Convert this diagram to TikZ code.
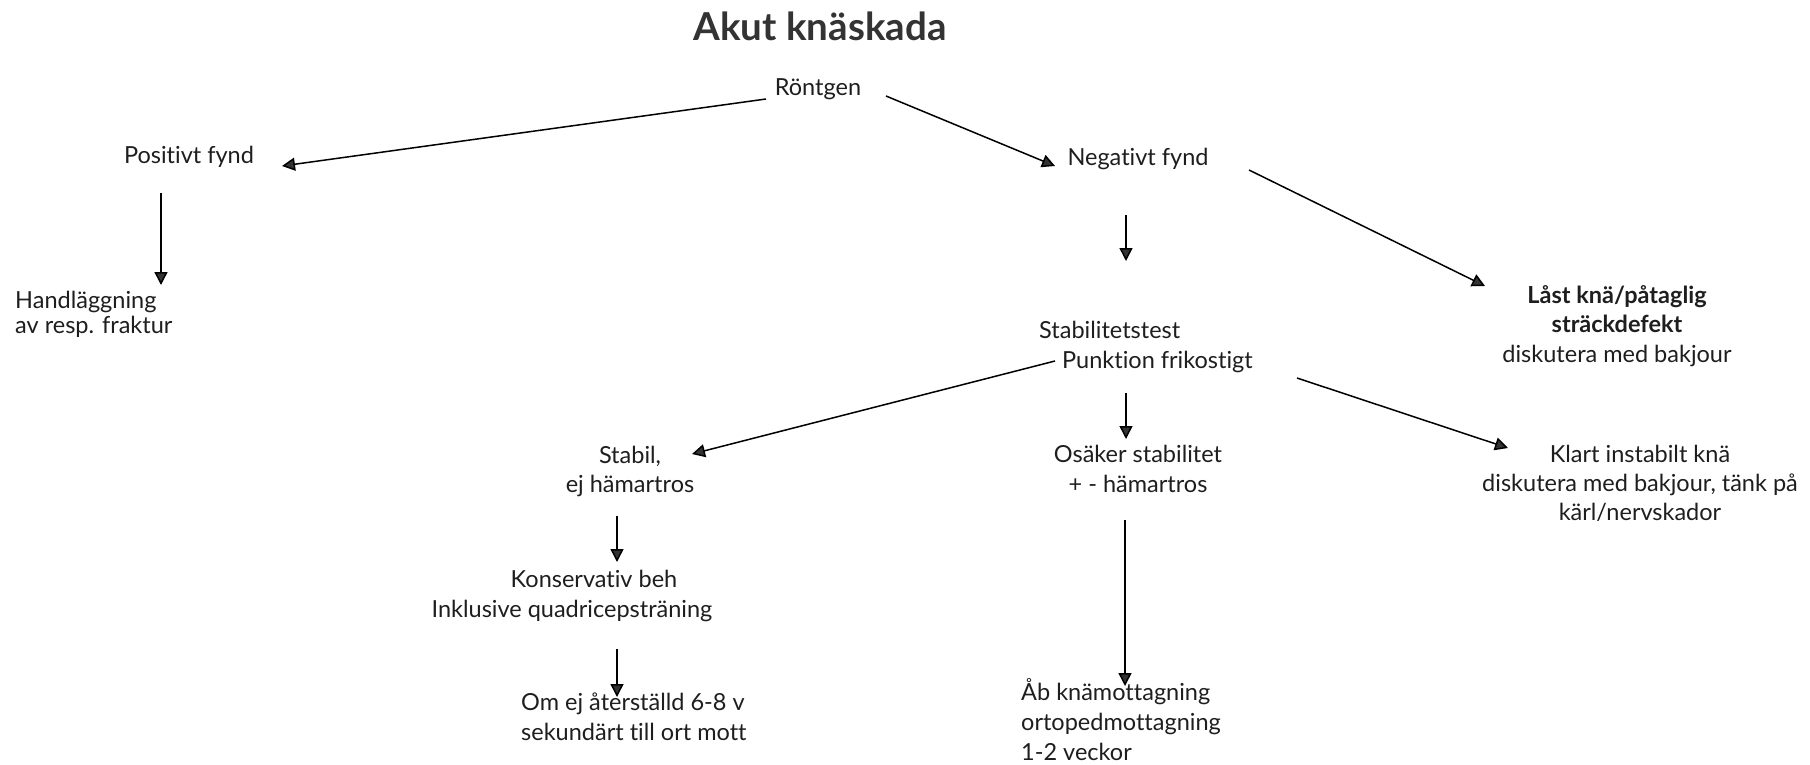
\documentclass[tikz,border=0pt]{standalone}
\usepackage{fontspec}
\setmainfont{Lato}[Ligatures={NoCommon}]
\usetikzlibrary{arrows.meta}
\definecolor{txt}{HTML}{1E1E1E}
\definecolor{ttl}{HTML}{333333}
\definecolor{tip}{HTML}{333333}
\begin{document}
\begin{tikzpicture}[x=1pt,y=-1pt,
  lbl/.style={inner sep=0pt, text=txt, font=\fontsize{23.5}{29}\selectfont},
  arr/.style={line width=1.5pt, draw=black, -{Triangle[length=13pt,width=13pt,fill=tip]}},
]
\useasboundingbox (0,0) rectangle (1810,764);

% title
\node[inner sep=0pt, anchor=base, text=ttl, font=\fontsize{38.5}{46}\selectfont\bfseries] (title) at (820,40) {Akut knäskada};

% nodes (base = baseline of the last line)
\node[lbl, anchor=base] (rontgen) at (818,95) {Röntgen};
\node[lbl, anchor=base] (pos) at (189,163) {Positivt fynd};
\node[lbl, anchor=base] (neg) at (1138,165) {Negativt fynd};
\node[lbl, anchor=base west, align=left, font=\fontsize{23.5}{25}\selectfont] (hand) at (15,333) {Handläggning\\av resp. fraktur};
\node[lbl, anchor=base, align=center, font=\fontsize{23.5}{29.5}\selectfont] (last) at (1617,362) {\textbf{Låst knä/påtaglig}\\\textbf{sträckdefekt}\\diskutera med bakjour};
\node[lbl, anchor=base west, align=left, font=\fontsize{23.5}{30}\selectfont] (stab) at (1039,368) {Stabilitetstest\\\hspace*{23pt}Punktion frikostigt};
\node[lbl, anchor=base, align=center, font=\fontsize{23.5}{30}\selectfont] (osak) at (1138,492) {Osäker stabilitet\\+ - hämartros};
\node[lbl, anchor=base, align=center, font=\fontsize{23.5}{29}\selectfont] (klart) at (1640,520) {Klart instabilt knä\\diskutera med bakjour, tänk på\\kärl/nervskador};
\node[lbl, anchor=base, align=center, font=\fontsize{23.5}{29}\selectfont] (stabil) at (630,492) {Stabil,\\ej hämartros};
\node[lbl, anchor=base, align=center, font=\fontsize{23.5}{30}\selectfont] (kons) at (572,617) {\hspace*{44pt}Konservativ beh\\Inklusive quadricepsträning};
\node[lbl, anchor=base west, align=left, font=\fontsize{23.5}{30}\selectfont] (omej) at (521,740) {Om ej återställd 6-8 v\\sekundärt till ort mott};
\node[lbl, anchor=base west, align=left, font=\fontsize{23.5}{30}\selectfont] (ab) at (1021,760) {Åb knämottagning\\ortopedmottagning\\1-2 veckor};

% connectors
\draw[arr] ([shift={(-52,4)}]rontgen.base) -- ([shift={(93,3)}]pos.base);
\draw[arr] ([shift={(68,1)}]rontgen.base) -- ([shift={(-83,1)}]neg.base);
\draw[arr] ([shift={(-28,30)}]pos.base) -- ([shift={(146,-48)}]hand.base west);
\draw[arr] ([shift={(111,5)}]neg.base) -- ([shift={(-132,-76)}]last.base);
\draw[arr] ([shift={(-12,50)}]neg.base) -- ([shift={(87,-107)}]stab.base west);
\draw[arr] ([shift={(16,-7)}]stab.base west) -- ([shift={(62,-38)}]stabil.base);
\draw[arr] ([shift={(258,10)}]stab.base west) -- ([shift={(-132,-72)}]klart.base);
\draw[arr] ([shift={(87,25)}]stab.base west) -- ([shift={(-12,-53)}]osak.base);
\draw[arr] ([shift={(-13,28)}]osak.base) -- ([shift={(104,-74)}]ab.base west);
\draw[arr] ([shift={(-13,24)}]stabil.base) -- ([shift={(45,-55)}]kons.base);
\draw[arr] ([shift={(45,32)}]kons.base) -- ([shift={(96,-43)}]omej.base west);
\end{tikzpicture}
\end{document}
